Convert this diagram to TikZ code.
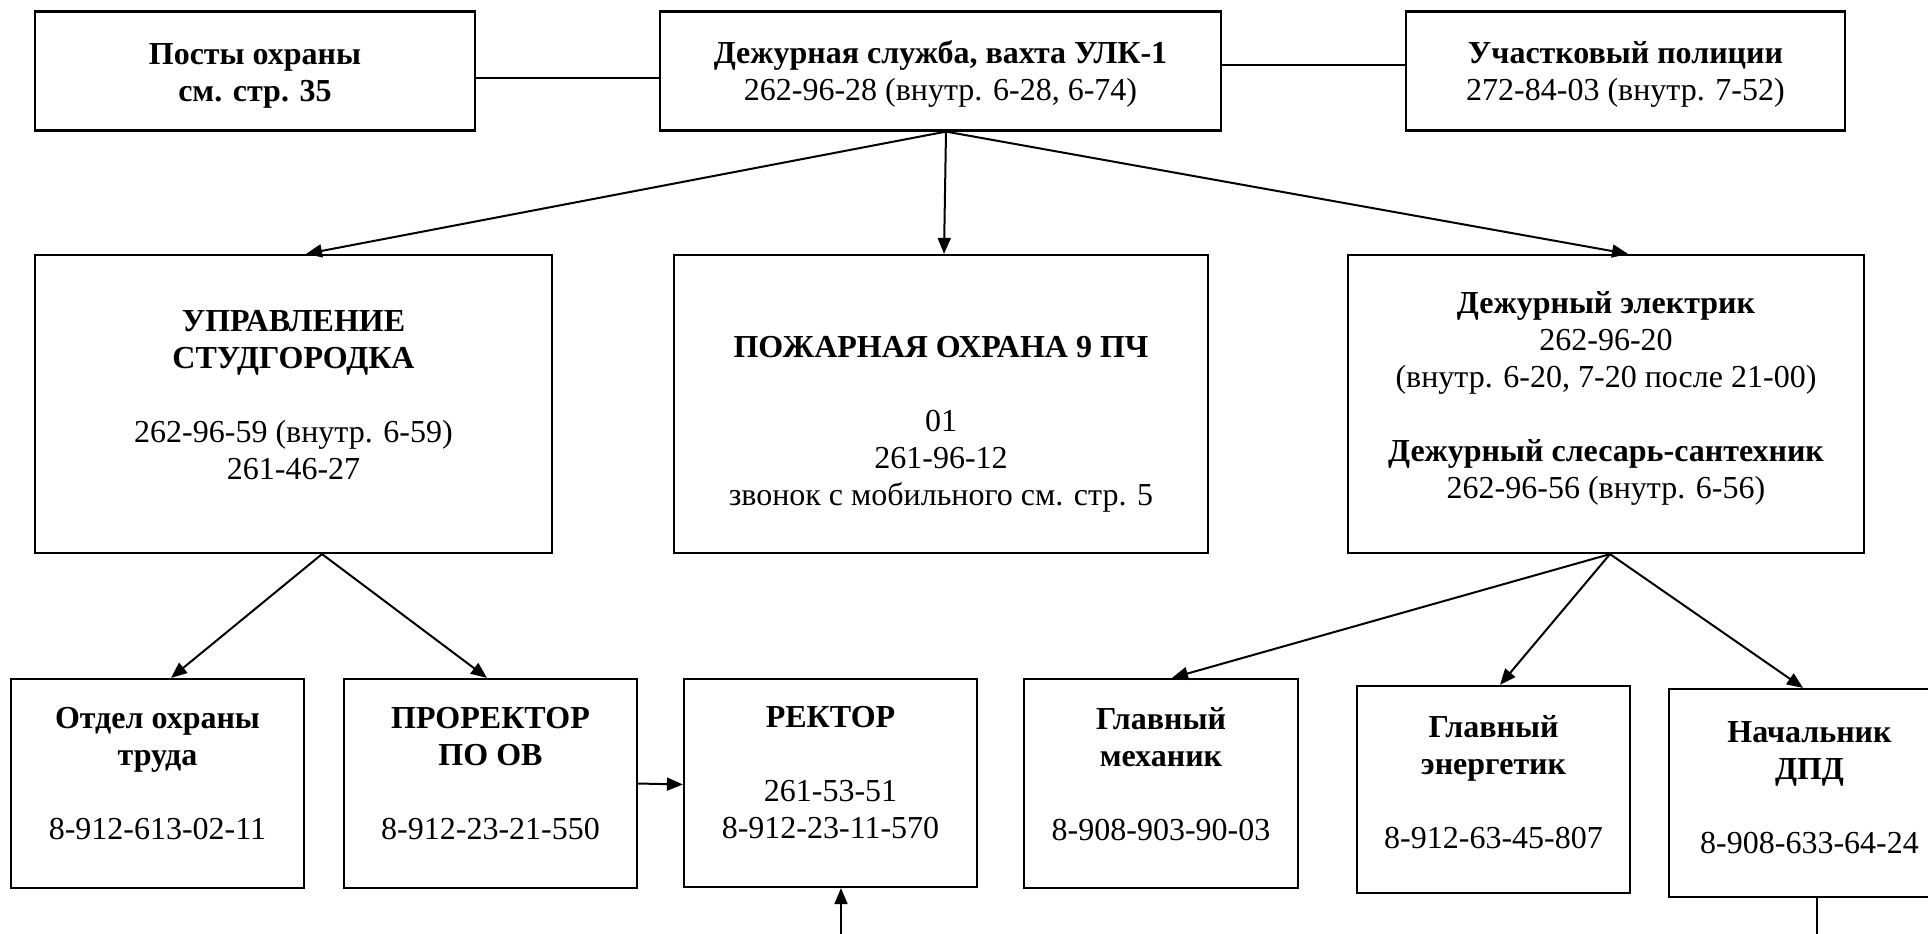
\documentclass[tikz,border=0pt]{standalone}
\usepackage{fontspec}
\setmainfont{Liberation Serif}
\usetikzlibrary{arrows.meta}
\newcommand\fs{\fontsize{32}{37}\selectfont}
\begin{document}
\begin{tikzpicture}[x=1pt,y=-1pt,
  box/.style={draw, line width=2.2pt, inner sep=0pt},
  txt/.style={anchor=north, inner sep=0pt, align=center, font=\fs},
  arr/.style={-{Triangle[length=16pt,width=13pt]}, line width=2pt},
  ln/.style={line width=2pt}]
\fill[white] (0,0) rectangle (1928,934);
\useasboundingbox (0,0) rectangle (1928,934);

% boxes
\node[box, minimum width=440pt, minimum height=119pt] (post) at (255,71) {};
\node[box, minimum width=561pt, minimum height=119pt] (dej) at (940.5,71) {};
\node[box, minimum width=439pt, minimum height=119pt] (uch) at (1625.5,71) {};
\node[box, minimum width=517pt, minimum height=298pt] (upr) at (293.5,404) {};
\node[box, minimum width=534pt, minimum height=298pt] (poz) at (941,404) {};
\node[box, minimum width=516pt, minimum height=298pt] (de) at (1606,404) {};
\node[box, minimum width=293pt, minimum height=209pt] (otd) at (157.5,783.5) {};
\node[box, minimum width=293pt, minimum height=209pt] (pro) at (490.5,783.5) {};
\node[box, minimum width=293pt, minimum height=208pt] (rec) at (830.5,783) {};
\node[box, minimum width=274pt, minimum height=209pt] (gm) at (1161,783.5) {};
\node[box, minimum width=273pt, minimum height=207pt] (ge) at (1493.5,789.5) {};
\node[box, minimum width=281pt, minimum height=208pt] (nach) at (1809.5,793) {};

% texts
\node[txt] (post-t) at (255,38) {\strut\textbf{Посты охраны}\\\textbf{см. стр. 35}};
\node[txt] (dej-t) at (940.5,37) {\strut\textbf{Дежурная служба, вахта УЛК-1}\\262-96-28 (внутр. 6-28, 6-74)};
\node[txt] (uch-t) at (1625.5,37) {\strut\textbf{Участковый полиции}\\272-84-03 (внутр. 7-52)};
\node[txt] (upr-t) at (293.5,305) {\strut\textbf{УПРАВЛЕНИЕ}\\\textbf{СТУДГОРОДКА}\\[37pt]262-96-59 (внутр. 6-59)\\261-46-27};
\node[txt] (poz-t) at (941,331) {\strut\textbf{ПОЖАРНАЯ ОХРАНА 9 ПЧ}\\[37pt]01\\261-96-12\\звонок с мобильного см. стр. 5};
\node[txt] (de-t) at (1606,287) {\strut\textbf{Дежурный электрик}\\262-96-20\\(внутр. 6-20, 7-20 после 21-00)\\[37pt]\textbf{Дежурный слесарь-сантехник}\\262-96-56 (внутр. 6-56)};
\node[txt] (otd-t) at (157.5,702) {\strut\textbf{Отдел охраны}\\\textbf{труда}\\[37pt]8-912-613-02-11};
\node[txt] (pro-t) at (490.5,702) {\strut\textbf{ПРОРЕКТОР}\\\textbf{ПО ОВ}\\[37pt]8-912-23-21-550};
\node[txt] (rec-t) at (830.5,701) {\strut\textbf{РЕКТОР}\\[37pt]261-53-51\\8-912-23-11-570};
\node[txt] (gm-t) at (1161,703) {\strut\textbf{Главный}\\\textbf{механик}\\[37pt]8-908-903-90-03};
\node[txt] (ge-t) at (1493.5,711) {\strut\textbf{Главный}\\\textbf{энергетик}\\[37pt]8-912-63-45-807};
\node[txt] (nach-t) at (1809.5,716) {\strut\textbf{Начальник}\\\textbf{ДПД}\\[37pt]8-908-633-64-24};

% free ends
\coordinate (recin) at (841,934);
\coordinate (nachout) at (1817,934);

% connectors
\draw[ln] ([yshift=-7pt]post.east) -- ([yshift=-7pt]dej.west);
\draw[ln] ([yshift=6pt]dej.east) -- ([yshift=6pt]uch.west);
\draw[arr] ([xshift=5.5pt]dej.south) -- ([xshift=12.5pt]upr.north);
\draw[arr] ([xshift=5.5pt]dej.south) -- ([xshift=3pt]poz.north);
\draw[arr] ([xshift=5.5pt]dej.south) -- ([xshift=22pt]de.north);
\draw[arr] ([xshift=28.5pt]upr.south) -- ([xshift=13.5pt]otd.north);
\draw[arr] ([xshift=28.5pt]upr.south) -- ([xshift=-3.5pt]pro.north);
\draw[arr] (pro.east) -- ([yshift=-1.5pt]rec.west);
\draw[arr] ([xshift=4pt]de.south) -- ([xshift=11pt]gm.north);
\draw[arr] ([xshift=4pt]de.south) -- ([xshift=6.5pt]ge.north);
\draw[arr] ([xshift=4pt]de.south) -- ([xshift=-6.5pt]nach.north);
\draw[arr] (recin) -- ([xshift=10.5pt]rec.south);
\draw[ln] ([xshift=7.5pt]nach.south) -- (nachout);
\end{tikzpicture}
\end{document}
